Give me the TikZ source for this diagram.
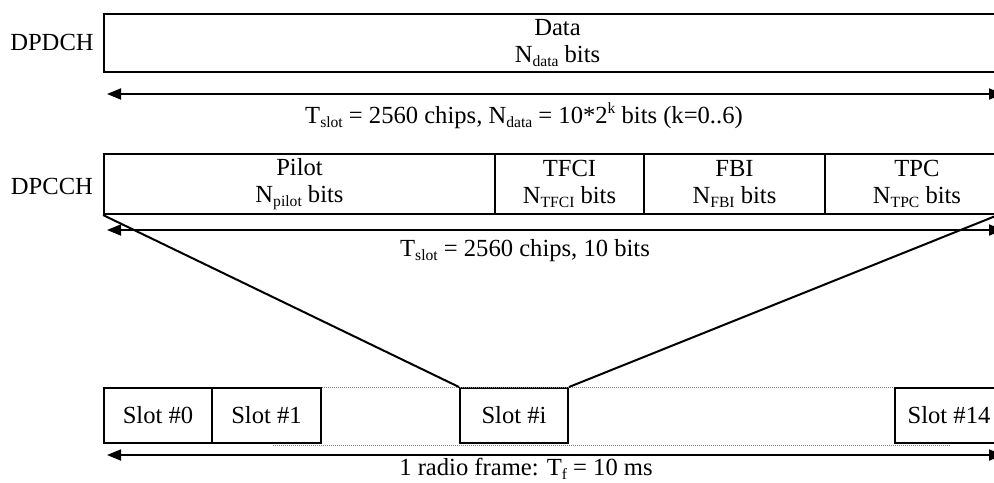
\documentclass[tikz,border=0pt]{standalone}
\usepackage{fontspec}
\setmainfont{Liberation Serif}
\usetikzlibrary{arrows.meta}
\newcommand\lsub[1]{\raisebox{-0.35ex}{\fontsize{7.8}{9}\selectfont #1}}
\newcommand\lsup[1]{\raisebox{0.85ex}{\fontsize{7.8}{9}\selectfont #1}}
\tikzset{
  field/.style={draw, line width=1pt, anchor=north west, inner sep=0pt, align=center},
  chlabel/.style={inner sep=0pt},
  span/.style={line width=0.9pt, {Triangle[length=7pt,width=5.5pt]}-{Triangle[length=7pt,width=5.5pt]}},
  fan/.style={line width=1pt},
  gap/.style={line width=0.5pt, gray, dash pattern=on 0.5pt off 0.5pt},
  caption/.style={inner sep=0pt}
}
\begin{document}
\begin{tikzpicture}[x=0.5pt,y=-0.5pt, font=\fontsize{12.3}{13.5}\selectfont]
\useasboundingbox (0,0) rectangle (994,482);
% DPDCH
\node[chlabel] (dpdchlbl) at (52,42) {DPDCH};
\node[field, minimum width=453.5pt, minimum height=29pt] (data) at (103,13) {Data\\N\lsub{data} bits};
\coordinate (a1l) at (107,94);
\coordinate (a1r) at (1003,94);
\draw[span] (a1l) -- (a1r);
\node[caption] (cap1) at (524,116) {T\lsub{slot} = 2560 chips, N\lsub{data} = 10*2\lsup{k} bits (k=0..6)};
% DPCCH
\node[chlabel] (dpcchlbl) at (52,186) {DPCCH};
\node[field, minimum width=195.5pt, minimum height=30pt] (pilot) at (103,153) {Pilot\\N\lsub{pilot} bits};
\node[field, minimum width=74.5pt, minimum height=30pt] (tfci) at (494,153) {TFCI\\N\lsub{TFCI} bits};
\node[field, minimum width=90.5pt, minimum height=30pt] (fbi) at (643,153) {FBI\\N\lsub{FBI} bits};
\node[field, minimum width=92pt, minimum height=30pt] (tpc) at (824,153) {TPC\\N\lsub{TPC} bits};
\coordinate (a2l) at (107,230);
\coordinate (a2r) at (1003,230);
\draw[span] (a2l) -- (a2r);
\node[caption] (cap2) at (525,251) {T\lsub{slot} = 2560 chips, 10 bits};
% Slots
\node[field, minimum width=54pt, minimum height=27.5pt] (s0) at (103,387) {Slot \#0};
\node[field, minimum width=54.5pt, minimum height=27.5pt] (s1) at (211,387) {Slot \#1};
\node[field, minimum width=54pt, minimum height=27.5pt] (si) at (459,387) {Slot \#i};
\node[field, minimum width=54pt, minimum height=27.5pt] (s14) at (894,387) {Slot \#14};
\coordinate (dt1) at (273,445);
\coordinate (dt2) at (950,445);
\draw[gap] (s1.north east) -- (s14.north west);
\draw[gap] (dt1) -- (dt2);
% fan lines
\coordinate (fanr) at (1003,213);
\draw[fan] (pilot.south west) -- (si.north west);
\draw[fan] (fanr) -- (si.north east);
% frame arrow
\coordinate (a3l) at (107,455);
\coordinate (a3r) at (1003,455);
\draw[span] (a3l) -- (a3r);
\node[caption] (cap3) at (526,469) {1 radio frame: T\lsub{f} = 10 ms};
\end{tikzpicture}
\end{document}
